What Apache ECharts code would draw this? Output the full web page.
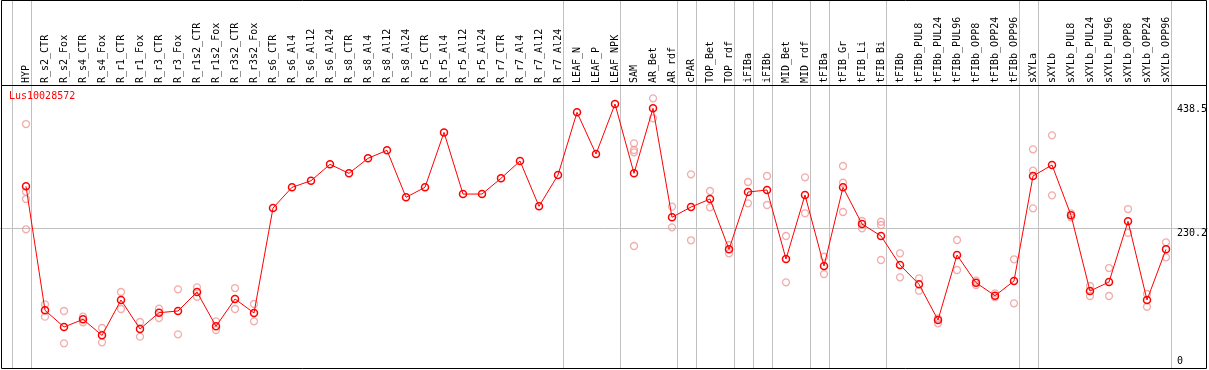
<!DOCTYPE html>
<html>
<head>
<meta charset="utf-8">
<script src="https://cdn.jsdelivr.net/npm/echarts@6/dist/echarts.min.js"></script>
<style>
html,body{margin:0;padding:0;background:#fff;}
#chart{width:1209px;height:370px;}
</style>
</head>
<body>
<div id="chart"></div>
<script>
const geneName = 'Lus10028572';

const categories = ['HYP','R_s2_CTR','R_s2_Fox','R_s4_CTR','R_s4_Fox','R_r1_CTR','R_r1_Fox','R_r3_CTR','R_r3_Fox',
  'R_r1s2_CTR','R_r1s2_Fox','R_r3s2_CTR','R_r3s2_Fox','R_s6_CTR','R_s6_Al4','R_s6_Al12','R_s6_Al24',
  'R_s8_CTR','R_s8_Al4','R_s8_Al12','R_s8_Al24','R_r5_CTR','R_r5_Al4','R_r5_Al12','R_r5_Al24',
  'R_r7_CTR','R_r7_Al4','R_r7_Al12','R_r7_Al24','LEAF_N','LEAF_P','LEAF_NPK','SAM','AR_Bet','AR_rdf',
  'cPAR','TOP_Bet','TOP_rdf','iFIBa','iFIBb','MID_Bet','MID_rdf','tFIBa','tFIB_Gr','tFIB_Li','tFIB_Bi',
  'tFIBb','tFIBb_PUL8','tFIBb_PUL24','tFIBb_PUL96','tFIBb_OPP8','tFIBb_OPP24','tFIBb_OPP96',
  'sXYLa','sXYLb','sXYLb_PUL8','sXYLb_PUL24','sXYLb_PUL96','sXYLb_OPP8','sXYLb_OPP24','sXYLb_OPP96'];

const means = [300.2, 91.8, 63.8, 76.7, 49.8, 109.2, 60.5, 87.9, 90.7,
  122.6, 65.0, 110.9, 87.4, 263.7, 298.5, 309.6, 337.1,
  322.0, 347.2, 360.7, 281.7, 298.5, 390.8, 287.2, 287.2,
  313.6, 342.7, 266.6, 319.2, 424.5, 354.4, 438.5, 322.0, 431.2, 248.1,
  265.4, 278.8, 194.3, 290.6, 294.0, 178.1, 285.6, 166.3, 298.5, 236.9, 216.7,
  168.0, 135.6, 75.6, 184.8, 138.3, 116.4, 141.1,
  317.5, 336.0, 251.5, 124.3, 139.4, 241.4, 109.2, 194.3];

const replicates = [
  [404.8, 291, 278.8, 228], [101.9, 81.2], [90.7, 36.4], [81.2, 71.7], [62.2, 38.1],
  [122.6, 94.1], [72.2, 47.6], [94.6, 79], [127.1, 51.5], [130.5, 114.7], [73.4, 58.8],
  [129.3, 94.1], [102.5, 73.4],
  [], [], [], [], [], [], [], [], [], [], [], [], [], [], [], [], [], [], [],
  [372.4, 361.2, 357.3, 199.9], [448, 414.4], [266, 231.3], [320.3, 209.5],
  [292.3, 264.9], [201.6, 187.6], [307.4, 271.6], [317.5, 268.8], [216.7, 138.9],
  [315.3, 254.8], [181.9, 152.9], [334.3, 306.2, 257], [241.9, 229.6], [240.7, 235.2, 176.4],
  [187.6, 147.3], [145.6, 124.8], [78.4, 70], [210, 159.6], [141.6, 134.4], [120.4, 113.7],
  [177.6, 103.6], [362.3, 326.4, 263.2], [385.8, 285], [254.8, 248.1], [132.7, 115.9],
  [162.9, 115.9], [262, 222.2], [119.3, 97.9], [206.1, 180.9]];

// last category of each group (a separator line follows it)
const groupLastCategory = ['HYP','R_r7_Al24','LEAF_NPK','AR_rdf','cPAR','TOP_rdf','iFIBa','iFIBb',
  'MID_rdf','tFIBa','tFIB_Bi','tFIBb_OPP96','sXYLa','sXYLb_OPP96'];

const yTickLabels = [0, 230.2, 438.5];
const yGridLines = [230.2];

// ---- build ----
const SEP_OFFSET = 5 / 19;
const sepIdx = [-1].concat(groupLastCategory.map(n => categories.indexOf(n)));
const meanData = means.map((v, i) => [i, v]);
const repData = [];
replicates.forEach((arr, i) => arr.forEach(v => repData.push([i, v])));

const FONT = 'DejaVu Sans Mono';
const CHAR_W = 6.02;
const maxLabelLen = Math.max.apply(null, yTickLabels.map(v => String(v).length));
const markLineData = [];
sepIdx.forEach(i => markLineData.push({ xAxis: i + SEP_OFFSET, label: { show: false },
  lineStyle: { color: '#c0c0c0', width: 1, type: 'solid' } }));
yTickLabels.forEach(v => {
  const isGrid = yGridLines.indexOf(v) >= 0;
  const txt = String(v);
  markLineData.push({
    yAxis: v,
    lineStyle: { color: isGrid ? '#c0c0c0' : 'rgba(255,255,255,0)', width: 1, type: 'solid' },
    label: {
      show: true,
      position: v === 0 ? 'insideEndTop' : 'insideEndBottom',
      distance: v === 0 ? [1, -1] : [1, 0],
      padding: [0, (maxLabelLen - txt.length) * CHAR_W, 0, 0],
      formatter: txt,
      color: '#000', fontFamily: FONT, fontSize: 10
    }
  });
});

const chart = echarts.init(document.getElementById('chart'), null, { renderer: 'canvas' });
chart.setOption({
  animation: false,
  backgroundColor: '#fff',
  textStyle: { fontFamily: FONT },
  title: {
    text: geneName, left: 9, top: 91, padding: 0,
    textStyle: { color: '#ff0000', fontSize: 10, fontWeight: 'normal', fontFamily: FONT }
  },
  grid: { left: -12, right: 1, top: 0, bottom: 2, outerBoundsMode: 'none', containLabel: false },
  xAxis: {
    type: 'value', position: 'top', offset: -85,
    min: -2, max: 62.21, interval: 1,
    axisLine: { show: false }, axisTick: { show: false }, splitLine: { show: false },
    axisLabel: {
      rotate: 90, margin: 2, color: '#000', fontSize: 10, fontFamily: FONT,
      showMinLabel: true, showMaxLabel: true, hideOverlap: false,
      formatter: v => { const k = Math.round(v); return categories[k] !== undefined && Math.abs(k - v) < 1e-6 ? categories[k] : ''; }
    }
  },
  yAxis: {
    type: 'value', min: -5.04, max: 613.2, show: false,
    splitLine: { show: false }
  },
  series: [
    {
      type: 'scatter', name: 'replicates', data: repData,
      symbol: 'circle', symbolSize: 7, z: 2, silent: true,
      itemStyle: { color: 'rgba(0,0,0,0)', borderColor: '#ee9999', borderWidth: 1.3 }
    },
    {
      type: 'line', name: 'mean', data: meanData,
      symbol: 'circle', symbolSize: 7, showAllSymbol: true, z: 3, silent: true,
      lineStyle: { color: '#ff0000', width: 1 },
      itemStyle: { color: 'rgba(0,0,0,0)', borderColor: '#ff0000', borderWidth: 1.5 },
      markLine: {
        silent: true, symbol: ['none', 'none'], animation: false, z: 1,
        data: markLineData
      }
    }
  ],
  graphic: [
    { type: 'rect', z: 100, silent: true,
      shape: { x: 1.5, y: 0.5, width: 1205, height: 368 },
      style: { fill: 'none', stroke: '#000', lineWidth: 1 } },
    { type: 'line', z: 100, silent: true,
      shape: { x1: 1.5, y1: 85.5, x2: 1206.5, y2: 85.5 },
      style: { stroke: '#000', lineWidth: 1 } }
  ]
});
</script>
</body>
</html>
